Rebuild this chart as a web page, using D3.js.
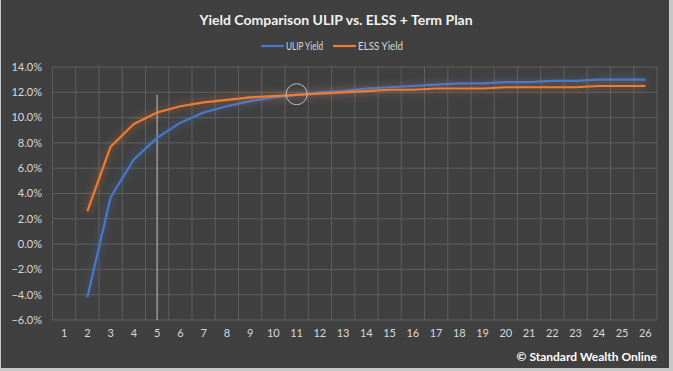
<!DOCTYPE html>
<html>
<head>
<meta charset="utf-8">
<script src="https://cdn.jsdelivr.net/npm/d3@7"></script>
<style>
  html, body { margin: 0; padding: 0; background: #404040; }
  svg { display: block; }
</style>
</head>
<body>
<svg id="chart" width="673" height="371"></svg>
<script>
// Yield comparison — Excel-style dark line chart
var years = d3.range(1, 27);
var ulipYield = [null, -4.2, 3.7, 6.7, 8.4, 9.6, 10.4, 10.9, 11.3, 11.6, 11.8, 12.0, 12.1, 12.3, 12.4,
  12.5, 12.6, 12.7, 12.7, 12.8, 12.8, 12.9, 12.9, 13.0, 13.0, 13.0];
var elssYield = [null, 2.6, 7.7, 9.5, 10.4, 10.9, 11.2, 11.4, 11.6, 11.7, 11.8, 11.9, 12.0, 12.1, 12.2,
  12.2, 12.3, 12.3, 12.3, 12.4, 12.4, 12.4, 12.4, 12.5, 12.5, 12.5];
var yTicks = [-6, -4, -2, 0, 2, 4, 6, 8, 10, 12, 14];
var seriesNames = ["ULIP Yield", "ELSS Yield"];
var markYear = 5, crossYear = 11, crossValue = 11.85;

var W = 673, H = 371;
var FONT = "Lato, 'Open Sans', sans-serif";
var plot = { left: 52.5, right: 657, top: 67, bottom: 320 };
var COLORS = { ulip: "#4a78c9", elss: "#ee7d31", grid: "#5e5e5e", text: "#d9d9d9" };

var svg = d3.select("#chart");

// outer frame (light edge of screenshot)
svg.append("rect").attr("x", 0).attr("y", 0).attr("width", W).attr("height", H).attr("fill", "#c8c8c8");
svg.append("rect").attr("x", 1).attr("y", 0).attr("width", 668).attr("height", 368).attr("fill", "#404040");

var x = d3.scaleBand().domain(years).range([plot.left, plot.right]);
var y = d3.scaleLinear().domain([-6, 14]).range([plot.bottom, plot.top]);
var cx = function (d) { return x(d) + x.bandwidth() / 2; };

var defs = svg.append("defs");
function glow(id) {
  var f = defs.append("filter").attr("id", id).attr("x", "-10%").attr("y", "-10%").attr("width", "120%").attr("height", "120%");
  f.append("feGaussianBlur").attr("in", "SourceGraphic").attr("stdDeviation", 4).attr("result", "b");
  f.append("feComponentTransfer").attr("in", "b").attr("result", "bf")
    .append("feFuncA").attr("type", "linear").attr("slope", 0.7);
  var m = f.append("feMerge");
  m.append("feMergeNode").attr("in", "bf");
  m.append("feMergeNode").attr("in", "SourceGraphic");
}
glow("glowBlue");
glow("glowOrange");

// gridlines
var grid = svg.append("g");
grid.selectAll("line.h").data(yTicks).enter().append("line")
  .attr("x1", plot.left).attr("x2", plot.right)
  .attr("y1", function (d) { return y(d); }).attr("y2", function (d) { return y(d); })
  .attr("stroke", COLORS.grid).attr("stroke-width", 1);
var vEdges = years.map(function (d) { return x(d); }).concat([plot.right]);
grid.selectAll("line.v").data(vEdges).enter().append("line")
  .attr("x1", function (d) { return d; }).attr("x2", function (d) { return d; })
  .attr("y1", plot.top).attr("y2", plot.bottom)
  .attr("stroke", COLORS.grid).attr("stroke-width", 1);

// marker line at year 5
svg.append("line")
  .attr("x1", cx(markYear)).attr("x2", cx(markYear))
  .attr("y1", y(11.8)).attr("y2", plot.bottom)
  .attr("stroke", "#a6a6a6").attr("stroke-width", 1.3);

// y axis labels
svg.append("g").selectAll("text").data(yTicks).enter().append("text")
  .attr("x", 42).attr("y", function (d) { return y(d); }).attr("dy", "0.35em")
  .attr("text-anchor", "end").attr("fill", COLORS.text)
  .style("font-family", FONT).style("font-size", "11px")
  .text(function (d) { return d3.format(".1f")(d) + "%"; });

// x axis labels
svg.append("g").selectAll("text").data(years).enter().append("text")
  .attr("x", cx).attr("y", 337).attr("text-anchor", "middle").attr("fill", COLORS.text)
  .style("font-family", FONT).style("font-size", "11px")
  .text(function (d) { return d; });

// series
var line = d3.line()
  .defined(function (d) { return d.v != null; })
  .x(function (d) { return cx(d.yr); }).y(function (d) { return y(d.v); });
function toPts(arr) { return years.map(function (yr, i) { return { yr: yr, v: arr[i] }; }); }

svg.append("path").attr("d", line(toPts(ulipYield))).attr("fill", "none")
  .attr("stroke", COLORS.ulip).attr("stroke-width", 2.2).attr("stroke-linejoin", "round")
  .attr("filter", "url(#glowBlue)");
svg.append("path").attr("d", line(toPts(elssYield))).attr("fill", "none")
  .attr("stroke", COLORS.elss).attr("stroke-width", 2.2).attr("stroke-linejoin", "round")
  .attr("filter", "url(#glowOrange)");

// crossover circle
svg.append("circle").attr("cx", cx(crossYear)).attr("cy", y(crossValue)).attr("r", 10.5)
  .attr("fill", "none").attr("stroke", "#bfbfbf").attr("stroke-width", 1);

// title
svg.append("text").attr("x", 336).attr("y", 25).attr("text-anchor", "middle")
  .attr("fill", "#f2f2f2").style("font-family", FONT).style("font-size", "14px").style("font-weight", "bold")
  .text("Yield Comparison ULIP vs. ELSS + Term Plan");

// legend
var legend = svg.append("g");
var legendX = [261, 333], legendCol = [COLORS.ulip, COLORS.elss], legendW = [37, 45];
seriesNames.forEach(function (name, i) {
  legend.append("line").attr("x1", legendX[i]).attr("x2", legendX[i] + 23)
    .attr("y1", 46).attr("y2", 46).attr("stroke", legendCol[i]).attr("stroke-width", 2.2);
  legend.append("text").attr("x", legendX[i] + 25).attr("y", 46).attr("dy", "0.35em")
    .attr("textLength", legendW[i]).attr("lengthAdjust", "spacingAndGlyphs")
    .attr("fill", COLORS.text).style("font-family", FONT).style("font-size", "11px").text(name);
});

// credit
svg.append("text").attr("x", 657).attr("y", 361).attr("text-anchor", "end")
  .attr("fill", "#ffffff").style("font-family", FONT).style("font-size", "12px").style("font-weight", "bold")
  .text("© Standard Wealth Online");
</script>
</body>
</html>
